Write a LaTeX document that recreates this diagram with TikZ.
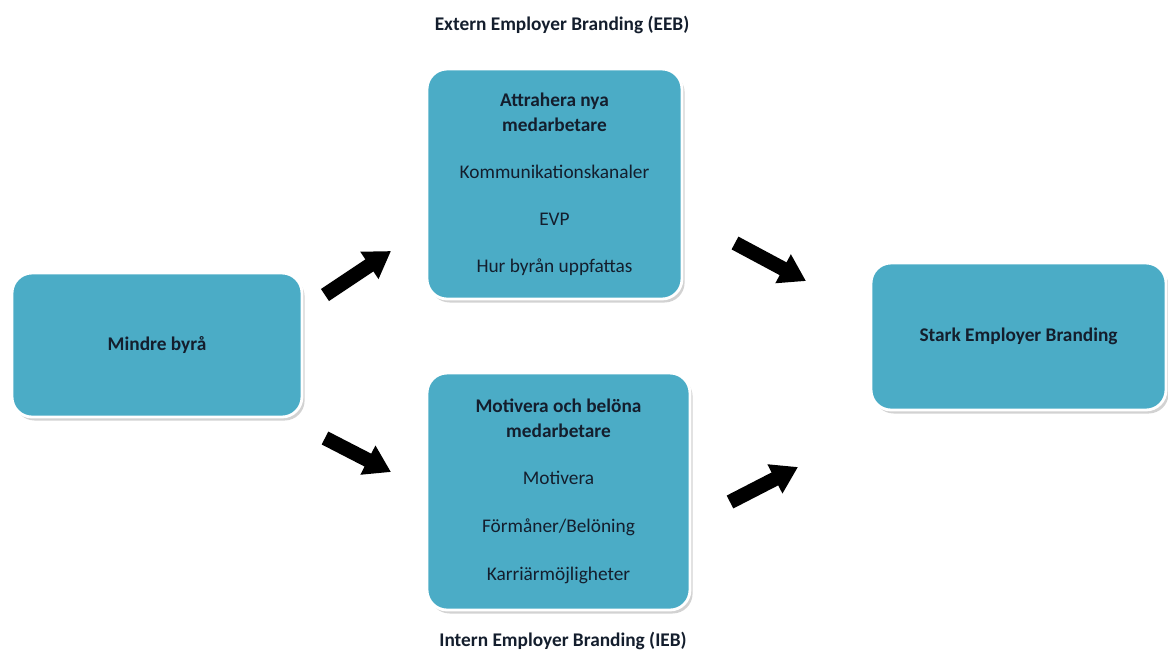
\documentclass[tikz,border=0pt]{standalone}
\usepackage{fontspec}
\setmainfont{Carlito}
\usetikzlibrary{positioning,arrows.meta,shadows}
\definecolor{boxblue}{RGB}{75,172,198}
\definecolor{ink}{RGB}{20,30,45}

\begin{document}
\begin{tikzpicture}[
  x=0.02cm, y=-0.02cm,
  box/.style={rectangle, rounded corners=0.4cm, fill=boxblue, draw=white, line width=1.6pt,
              align=center, text=ink, font=\fontsize{11}{14.2}\selectfont,
              drop shadow={shadow xshift=1.5pt, shadow yshift=-2pt, fill=black!35}},
  lbl/.style={font=\fontsize{11}{14}\selectfont\bfseries, text=ink},
  bigarrow/.style={line width=0.29cm, -{Triangle[length=0.52cm, width=0.62cm]}},
]
\useasboundingbox (0,0) rectangle (1168,654);

\node[box, minimum width=5.8cm, minimum height=2.88cm] (mb) at (157,345)
  {\textbf{Mindre byrå}};
\node[box, minimum width=5.1cm, minimum height=4.6cm] (att) at (554.5,184)
  {\textbf{Attrahera nya}\\ \textbf{medarbetare}\\[0.44cm]
   Kommunikationskanaler\\[0.44cm] EVP\\[0.44cm] Hur byrån uppfattas};
\node[box, minimum width=5.26cm, minimum height=4.74cm] (mot) at (558.5,491.5)
  {\textbf{Motivera och belöna}\\ \textbf{medarbetare}\\[0.44cm]
   Motivera\\[0.46cm] Förmåner/Belöning\\[0.46cm] Karriärmöjligheter};
\node[box, minimum width=5.9cm, minimum height=2.94cm] (stark) at (1018.5,336.5)
  {\textbf{Stark Employer Branding}};

\node[lbl] (eeb) at (562,25) {Extern Employer Branding (EEB)};
\node[lbl] (ieb) at (563,641) {Intern Employer Branding (IEB)};

% block arrows between the boxes
\coordinate (a1s) at (325,295);
\coordinate (a1e) at (391,251);
\coordinate (a2s) at (325,438);
\coordinate (a2e) at (391,472);
\coordinate (a3s) at (735,243);
\coordinate (a3e) at (806,281);
\coordinate (a4s) at (730,502);
\coordinate (a4e) at (798,467);

\draw[bigarrow] (a1s) -- (a1e);
\draw[bigarrow] (a2s) -- (a2e);
\draw[bigarrow] (a3s) -- (a3e);
\draw[bigarrow] (a4s) -- (a4e);

\end{tikzpicture}
\end{document}
